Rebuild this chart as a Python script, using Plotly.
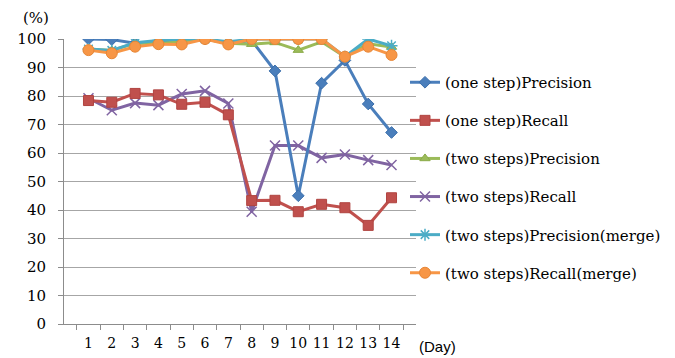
import plotly.graph_objects as go

days = [str(d) for d in range(1, 15)]
one_prec = [100, 99.8, 98.5, 99, 99.5, 100, 98.5, 99.5, 88.8, 45, 84.5, 92.5, 77.2, 67.2]
one_rec = [78.4, 77.8, 80.9, 80.4, 77.1, 77.8, 73.4, 43.3, 43.4, 39.4, 42, 40.8, 34.6, 44.3]
two_prec = [96.5, 96, 98.5, 98.5, 99, 100, 98.5, 98.2, 98.8, 96.1, 99, 93.8, 98.3, 97.2]
two_rec = [79.2, 75, 77.5, 76.8, 80.7, 81.8, 77.4, 39.4, 62.6, 62.6, 58.3, 59.5, 57.5, 55.8]
two_prec_m = [96.5, 96, 98.7, 99.5, 100, 100, 99, 100, 100, 100, 100, 93.8, 100, 97.6]
two_rec_m = [96.1, 95, 97.3, 98.2, 98.1, 100, 98.1, 100, 100, 100, 100, 93.8, 97.3, 94.4]

names = ["(one step)Precision", "(one step)Recall", "(two steps)Precision",
         "(two steps)Recall", "(two steps)Precision(merge)", "(two steps)Recall(merge)"]
series = [one_prec, one_rec, two_prec, two_rec, two_prec_m, two_rec_m]
colors = ["#4A7EBB", "#C0504D", "#9BBB59", "#8064A2", "#4BACC6", "#F79646"]
symbols = ["diamond", "square", "triangle-up", "x-thin", "asterisk", "circle"]
sizes = [9, 10, 9, 10, 10, 11]
edge = ["#3A6EAB", "#B04440", "#8BAB49", "#8064A2", "#4BACC6", "#E78636"]

SERIF = "DejaVu Serif"

fig = go.Figure()
draw_order = [3, 1, 0, 2, 4, 5]
for i in draw_order:
    thin = symbols[i] in ("x-thin", "asterisk")
    fig.add_trace(go.Scatter(
        x=days, y=series[i], name=names[i], mode="lines+markers",
        legendrank=i + 1, legendgroup=str(i),
        line=dict(color=colors[i], width=3),
        marker=dict(symbol=symbols[i], size=sizes[i], color=colors[i],
                    line=dict(color=edge[i] if not thin else colors[i], width=1.5 if thin else 1)),
    ))

W, H = 675, 358
l, r, t, b = 64, 259, 39, 34
pw, ph = W - l - r, H - t - b

def px2paper(px, py):
    return (px - l) / pw, (H - b - py) / ph

ax1, ay1 = px2paper(36, 18)
ax2, ay2 = px2paper(437, 346)
lx, ly = px2paper(405, 66)

fig.update_layout(
    width=W, height=H,
    margin=dict(l=l, r=r, t=t, b=b, autoexpand=False),
    paper_bgcolor="white", plot_bgcolor="white",
    font=dict(family=SERIF, size=15, color="#000000"),
    showlegend=True,
    legend=dict(x=lx, xanchor="left", y=ly, yanchor="top",
                font=dict(family=SERIF, size=15),
                tracegroupgap=15.6, itemwidth=30, bgcolor="rgba(0,0,0,0)"),
    xaxis=dict(type="category", showgrid=False, showline=True, linecolor="#8C8C8C",
               linewidth=1, ticks="outside", tickson="boundaries", ticklen=5,
               tickangle=0, automargin=False, ticklabelstandoff=6,
               tickcolor="#8C8C8C", tickfont=dict(family=SERIF, size=14)),
    yaxis=dict(range=[0, 100], dtick=10, showgrid=True, gridcolor="#A6A6A6",
               gridwidth=1, showline=True, linecolor="#8C8C8C", ticks="outside",
               ticklen=5, tickcolor="#8C8C8C", zeroline=False, automargin=False,
               ticklabelstandoff=9,
               tickfont=dict(family=SERIF, size=15)),
    annotations=[
        dict(text="(%)", x=ax1, y=ay1, xref="paper", yref="paper", showarrow=False,
             xanchor="center", yanchor="middle", font=dict(family=SERIF, size=15)),
        dict(text="(Day)", x=ax2, y=ay2, xref="paper", yref="paper", showarrow=False,
             xanchor="center", yanchor="middle",
             font=dict(family="Liberation Sans", size=15)),
    ],
)
fig.write_html("out.html", config={"displayModeBar": False},
               post_script="document.body.style.margin='0';document.body.style.padding='0';")
